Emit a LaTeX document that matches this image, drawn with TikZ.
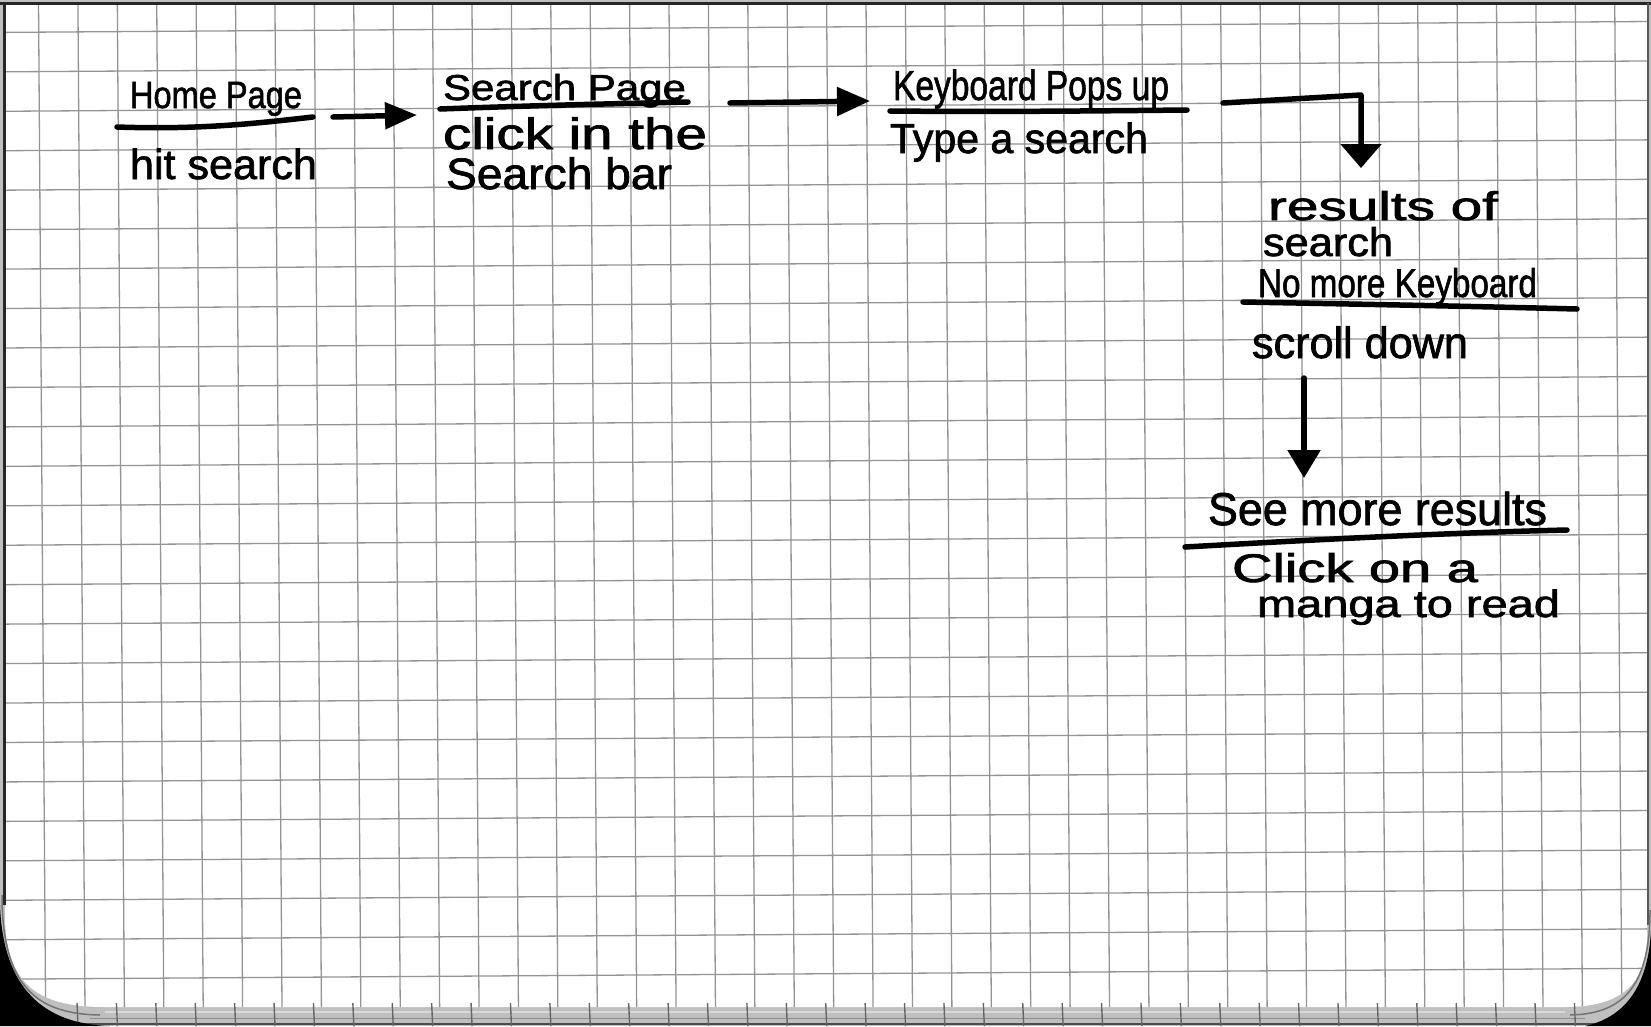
\documentclass[tikz,border=0pt]{standalone}
\usepackage{graphicx}
\usepackage{fontspec}
\setmainfont{Liberation Sans}
\usetikzlibrary{arrows.meta}

% one line of pen writing: target width (px), font size (px), text
\newcommand\penline[3]{{\fontsize{#2pt}{#2pt}\selectfont\addfontfeature{FakeBold=1.6}\resizebox{#1pt}{\height}{#3}}}

\begin{document}
\begin{tikzpicture}[x=1pt,y=-1pt,
  ink/.style={line width=5.5pt, line cap=round, line join=round, black},
  flow/.style 2 args={ink, -{Triangle[length=#1pt,width=#2pt]}},
  note/.style={anchor=base west, inner sep=0pt, outer sep=0pt, text=black},
  gridline/.style={line width=1.3pt, black!42},
  tick/.style={line width=1.4pt, black!60},
]
\useasboundingbox (0,0) rectangle (1651,1026);

% scanner background and the page itself
\fill[black!25] (0,0) rectangle (1651,1026);
\path[fill=white] (5,4) -- (5,915) .. controls (5,990) and (45,1007) .. (105,1007)
  -- (1565,1007) .. controls (1620,1007) and (1647,985) .. (1647,935) -- (1647,4) -- cycle;

% squared paper, printed slightly askew
\begin{scope}
  \clip (5,4) -- (5,915) .. controls (5,990) and (45,1007) .. (105,1007)
    -- (1565,1007) .. controls (1620,1007) and (1647,985) .. (1647,935) -- (1647,4) -- cycle;
  \foreach \k in {1,...,41}
    \draw[gridline] ({-0.9+39.405*\k},0) -- ({-0.9+39.405*\k+7.2},1026);
  \foreach \j in {0,...,24}
    \draw[gridline] (0,{32.4+39.45*\j}) -- (1651,{32.4+39.45*\j-10.9});
\end{scope}

% page edges
\draw[line width=3pt, black!85] (0,3.5) -- (1651,3.5);
\draw[line width=2.5pt, black!85] (4.5,3) -- (4.5,905);
\draw[line width=2pt, black!65] (1648,3) -- (1648,925);

% bottom edge strip with its ruler ticks
\draw[line width=2pt, white!85!black] (105,1011.5) -- (1565,1011.5);
\draw[line width=1pt, black!45] (90,1018) -- (1585,1018);
\draw[line width=2.5pt, black!70] (70,1024) -- (1600,1024);
\foreach \k in {2,...,40}
  \draw[tick] ({-0.9+39.405*\k+7.1-8},1003) -- ({-0.9+39.405*\k+7.1-7},1026);

% rounded page corners over the black scanner bed
\draw[line width=1.5pt, black!55] (2,895) .. controls (2,990) and (40,1014) .. (100,1015);
\draw[line width=1.5pt, black!55] (1650,910) .. controls (1650,990) and (1620,1014) .. (1570,1015);
\fill[black] (0,905) .. controls (3,990) and (45,1024) .. (110,1026) -- (0,1026) -- cycle;
\fill[black] (1651,930) .. controls (1648,990) and (1622,1018) .. (1585,1026) -- (1651,1026) -- cycle;

% ---- step 1: home page
\node[note] (homeT) at (130,108) {\penline{172}{38}{Home Page}};
\draw[ink] (117,127) .. controls (200,130) and (260,123) .. (313,117);
\node[note] (homeA) at (130,179) {\penline{187}{42}{hit search}};

% ---- step 2: search page
\node[note] (srchT) at (443,100) {\penline{243}{36}{Search Page}};
\draw[ink] (440,109) .. controls (520,106) and (600,104) .. (688,102);
\node[note] (srchA) at (443,149) {\penline{264}{44}{click in the}};
\node[note] (srchB) at (446,189) {\penline{226}{44}{Search bar}};

% ---- step 3: keyboard
\node[note] (keyT) at (893,100) {\penline{276}{42}{Keyboard Pops up}};
\draw[ink] (890,111) .. controls (990,112) and (1090,111) .. (1187,110);
\node[note] (keyA) at (890,153) {\penline{258}{42}{Type a search}};

% ---- step 4: results
\node[note] (resT1) at (1268,220) {\penline{230}{40}{results of}};
\node[note] (resT2) at (1263,256) {\penline{130}{40}{search}};
\node[note] (resT3) at (1258,297) {\penline{279}{40}{No more Keyboard}};
\draw[ink] (1243,302) .. controls (1350,304) and (1460,306) .. (1577,309);
\node[note] (resA) at (1252,358) {\penline{216}{44}{scroll down}};

% ---- step 5: more results
\node[note] (moreT) at (1208,525) {\penline{339}{46}{See more results}};
\draw[ink] (1185,547) .. controls (1310,540) and (1440,533) .. (1567,530);
\node[note] (moreA) at (1232,582) {\penline{246}{40}{Click on a}};
\node[note] (moreB) at (1257,617) {\penline{303}{38}{manga to read}};

% ---- connectors
\coordinate (a1s) at (333,117);
\coordinate (a1e) at (417,115);
\coordinate (a2s) at (730,103);
\coordinate (a2e) at (870,101);
\coordinate (a3s) at (1223,103);
\coordinate (a3c) at (1361,95);
\coordinate (a3e) at (1361,168);
\coordinate (a4s) at (1304,378);
\coordinate (a4e) at (1304,478);

\draw[flow={32}{26}] (a1s) -- (a1e);
\draw[flow={33}{28}] (a2s) -- (a2e);
\draw[flow={24}{40}] (a3s) -- (a3c) -- (a3e);
\draw[flow={28}{32}] (a4s) -- (a4e);
\end{tikzpicture}
\end{document}
